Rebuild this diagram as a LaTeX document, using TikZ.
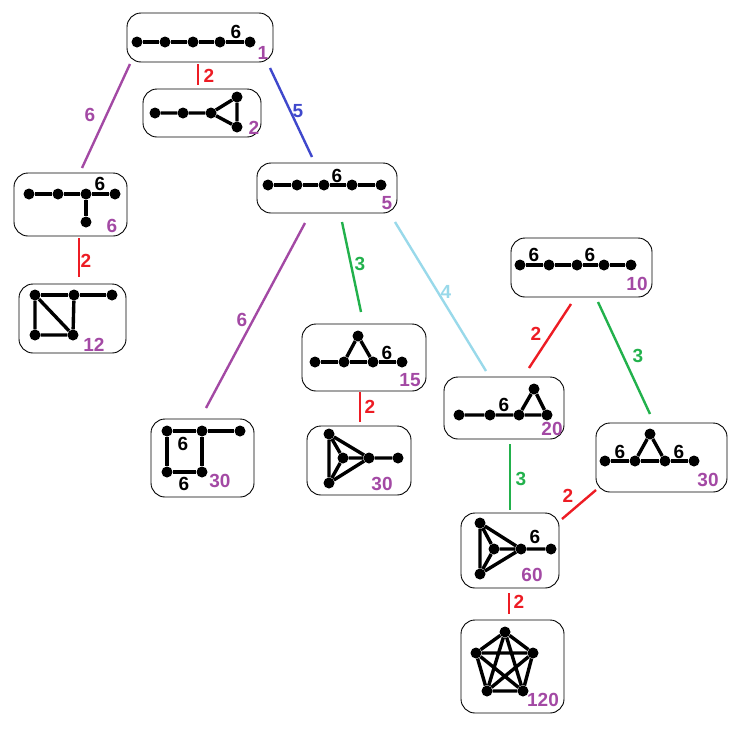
\documentclass[tikz,border=0pt]{standalone}
\usepackage{fontspec}
\setmainfont{Liberation Sans}
\begin{document}
\begin{tikzpicture}[x=1pt,y=-1pt,
  box/.style={draw,rounded corners=14pt,line width=0.9pt,inner sep=0pt},
  dot/.style={circle,fill,inner sep=0pt,minimum size=11pt},
  edge/.style={line width=3.4pt},
  lab/.style={font=\bfseries\fontsize{19}{19}\selectfont,inner sep=0pt},
  cnt/.style={font=\bfseries\fontsize{19}{19}\selectfont,inner sep=0pt,text=mpurple},
  conn/.style={line width=2.4pt}]
\definecolor{mpurple}{HTML}{A349A4}
\definecolor{mred}{HTML}{ED1C24}
\definecolor{mblue}{HTML}{3F48CC}
\definecolor{mgreen}{HTML}{22B14C}
\definecolor{mlblue}{HTML}{99D9EA}
\useasboundingbox (0,0) rectangle (741,731);
% boxes
\node[box,minimum width=146pt,minimum height=49pt] (b1) at (200,37.5) {};
\node[box,minimum width=118pt,minimum height=48pt] (b2) at (202,113) {};
\node[box,minimum width=113pt,minimum height=63pt] (b3) at (70.5,204.5) {};
\node[box,minimum width=107pt,minimum height=69pt] (b4) at (72.5,318.5) {};
\node[box,minimum width=140pt,minimum height=50pt] (b5) at (327,188) {};
\node[box,minimum width=103pt,minimum height=78pt] (b6) at (202.5,458) {};
\node[box,minimum width=124pt,minimum height=67pt] (b7) at (364,357.5) {};
\node[box,minimum width=104pt,minimum height=69pt] (b8) at (359,460.5) {};
\node[box,minimum width=120pt,minimum height=62pt] (b9) at (504,408) {};
\node[box,minimum width=141pt,minimum height=59pt] (b10) at (581.5,267.5) {};
\node[box,minimum width=131pt,minimum height=69pt] (b11) at (661.5,457.5) {};
\node[box,minimum width=98pt,minimum height=75pt] (b12) at (510,550.5) {};
\node[box,minimum width=103pt,minimum height=93pt] (b13) at (512.5,666.5) {};
% graph 1
\node[dot] (a1) at (137,42) {}; \node[dot] (a2) at (165,42) {}; \node[dot] (a3) at (193,42) {};
\node[dot] (a4) at (220,42) {}; \node[dot] (a5) at (250,42) {};
\draw[edge] (a1)--(a2)--(a3)--(a4)--(a5);
\node[lab] (l1) at (236,32) {6}; \node[cnt] (c1) at (263,53) {1};
% graph 2
\node[dot] (d1) at (155,113) {}; \node[dot] (d2) at (183,113) {}; \node[dot] (d3) at (211,113) {};
\node[dot] (d4) at (237,97) {}; \node[dot] (d5) at (237,127) {};
\draw[edge] (d1)--(d2)--(d3)--(d4)--(d5)--(d3);
\node[cnt] (c2) at (254,128) {2};
% graph 3
\node[dot] (e1) at (29,194) {}; \node[dot] (e2) at (58,194) {}; \node[dot] (e3) at (86,194) {};
\node[dot] (e4) at (115,194) {}; \node[dot] (e5) at (86,222) {};
\draw[edge] (e1)--(e2)--(e3)--(e4); \draw[edge] (e3)--(e5);
\node[lab] (l3) at (100,184) {6}; \node[cnt] (c3) at (112,226) {6};
% graph 4
\node[dot] (f1) at (35,295) {}; \node[dot] (f2) at (74,295) {}; \node[dot] (f3) at (112,295) {};
\node[dot] (f4) at (35,335) {}; \node[dot] (f5) at (73,335) {};
\draw[edge] (f1)--(f2)--(f3); \draw[edge] (f1)--(f4)--(f5)--(f2); \draw[edge] (f1)--(f5);
\node[cnt] (c4) at (94,345) {12};
% graph 5
\node[dot] (g1) at (268,185) {}; \node[dot] (g2) at (297,185) {}; \node[dot] (g3) at (324,185) {};
\node[dot] (g4) at (352,185) {}; \node[dot] (g5) at (381,185) {};
\draw[edge] (g1)--(g2)--(g3)--(g4)--(g5);
\node[lab] (l5) at (337,176) {6}; \node[cnt] (c5) at (387,203) {5};
% graph 6
\node[dot] (h1) at (167,431) {}; \node[dot] (h2) at (202,431) {}; \node[dot] (h3) at (240,431) {};
\node[dot] (h4) at (167,472) {}; \node[dot] (h5) at (202,472) {};
\draw[edge] (h1)--(h2)--(h3); \draw[edge] (h1)--(h4)--(h5)--(h2);
\node[lab] (l6a) at (183,444) {6}; \node[lab] (l6b) at (184,484) {6};
\node[cnt] (c6) at (220,481) {30};
% graph 7
\node[dot] (i1) at (315,362) {}; \node[dot] (i2) at (344,362) {}; \node[dot] (i3) at (358,336) {};
\node[dot] (i4) at (373,362) {}; \node[dot] (i5) at (402,362) {};
\draw[edge] (i1)--(i2)--(i4)--(i5); \draw[edge] (i2)--(i3)--(i4);
\node[lab] (l7) at (387,353) {6}; \node[cnt] (c7) at (410,380) {15};
% graph 8
\node[dot] (j1) at (329,434) {}; \node[dot] (j2) at (343,458) {}; \node[dot] (j3) at (369,458) {};
\node[dot] (j4) at (329,483) {}; \node[dot] (j5) at (398,458) {};
\draw[edge] (j1)--(j4)--(j3)--(j1)--(j2)--(j3)--(j5); \draw[edge] (j2)--(j4);
\node[cnt] (c8) at (382,484) {30};
% graph 9
\node[dot] (k1) at (459,415) {}; \node[dot] (k2) at (490,415) {}; \node[dot] (k3) at (519,415) {};
\node[dot] (k4) at (534,389) {}; \node[dot] (k5) at (547,415) {};
\draw[edge] (k1)--(k2)--(k3)--(k5)--(k4)--(k3);
\node[lab] (l9) at (504,405) {6}; \node[cnt] (c9) at (552,429) {20};
% graph 10
\node[dot] (m1) at (520,265) {}; \node[dot] (m2) at (549,265) {}; \node[dot] (m3) at (577,265) {};
\node[dot] (m4) at (604,265) {}; \node[dot] (m5) at (631,265) {};
\draw[edge] (m1)--(m2)--(m3)--(m4)--(m5);
\node[lab] (l10a) at (534,255) {6}; \node[lab] (l10b) at (590,255) {6};
\node[cnt] (c10) at (637,284) {10};
% graph 11
\node[dot] (n1) at (605,461) {}; \node[dot] (n2) at (635,461) {}; \node[dot] (n3) at (650,434) {};
\node[dot] (n4) at (665,461) {}; \node[dot] (n5) at (694,461) {};
\draw[edge] (n1)--(n2)--(n4)--(n5); \draw[edge] (n2)--(n3)--(n4);
\node[lab] (l11a) at (620,452) {6}; \node[lab] (l11b) at (679,452) {6};
\node[cnt] (c11) at (708,480) {30};
% graph 12
\node[dot] (p1) at (480,523) {}; \node[dot] (p2) at (494,549) {}; \node[dot] (p3) at (521,549) {};
\node[dot] (p4) at (480,574) {}; \node[dot] (p5) at (551,549) {};
\draw[edge] (p1)--(p4)--(p3)--(p1)--(p2)--(p3)--(p5); \draw[edge] (p2)--(p4);
\node[lab] (l12) at (535,537) {6}; \node[cnt] (c12) at (532,575) {60};
% graph 13
\node[dot] (q1) at (505,632) {}; \node[dot] (q2) at (476,653) {}; \node[dot] (q3) at (533,653) {};
\node[dot] (q4) at (487,691) {}; \node[dot] (q5) at (523,691) {};
\draw[edge] (q1)--(q2)--(q4)--(q5)--(q3)--(q1); \draw[edge] (q1)--(q4)--(q3)--(q2)--(q5)--(q1);
\node[cnt] (c13) at (543,700) {120};
% connectors
\coordinate (s1) at (130,64); \coordinate (t1) at (82,168);
\draw[conn,mpurple] (s1)--(t1); \node[cnt] (x1) at (90,115) {6};
\coordinate (s2) at (198,64); \coordinate (t2) at (198,85);
\draw[conn,mred] (s2)--(t2); \node[lab,text=mred] (x2) at (209,76) {2};
\coordinate (s3) at (270,68); \coordinate (t3) at (312,157);
\draw[conn,mblue] (s3)--(t3); \node[lab,text=mblue] (x3) at (298,111) {5};
\coordinate (s4) at (79,238); \coordinate (t4) at (79,277);
\draw[conn,mred] (s4)--(t4); \node[lab,text=mred] (x4) at (86,261) {2};
\coordinate (s5) at (305,223); \coordinate (t5) at (206,408);
\draw[conn,mpurple] (s5)--(t5); \node[cnt] (x5) at (242,320) {6};
\coordinate (s6) at (342,222); \coordinate (t6) at (361,312);
\draw[conn,mgreen] (s6)--(t6); \node[lab,text=mgreen] (x6) at (360,264) {3};
\coordinate (s7) at (395,222); \coordinate (t7) at (486,371);
\draw[conn,mlblue] (s7)--(t7); \node[lab,text=mlblue] (x7) at (446,292) {4};
\coordinate (s8) at (571,304); \coordinate (t8) at (529,368);
\draw[conn,mred] (s8)--(t8); \node[lab,text=mred] (x8) at (536,334) {2};
\coordinate (s9) at (598,302); \coordinate (t9) at (650,414);
\draw[conn,mgreen] (s9)--(t9); \node[lab,text=mgreen] (x9) at (638,356) {3};
\coordinate (s10) at (360,392); \coordinate (t10) at (360,422);
\draw[conn,mred] (s10)--(t10); \node[lab,text=mred] (x10) at (370,407) {2};
\coordinate (s11) at (510,444); \coordinate (t11) at (510,510);
\draw[conn,mgreen] (s11)--(t11); \node[lab,text=mgreen] (x11) at (521,479) {3};
\coordinate (s12) at (596,490); \coordinate (t12) at (562,519);
\draw[conn,mred] (s12)--(t12); \node[lab,text=mred] (x12) at (568,496) {2};
\coordinate (s13) at (509,593); \coordinate (t13) at (509,614);
\draw[conn,mred] (s13)--(t13); \node[lab,text=mred] (x13) at (519,602) {2};
\end{tikzpicture}
\end{document}
